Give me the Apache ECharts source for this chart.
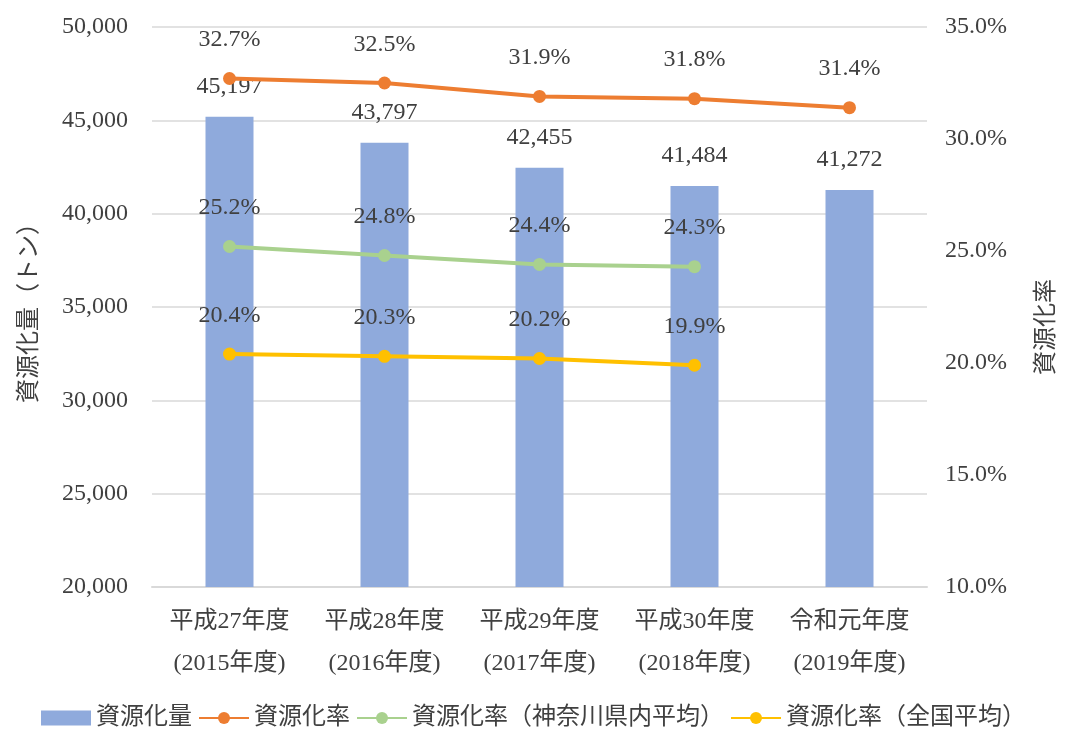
<!DOCTYPE html>
<html>
<head>
<meta charset="utf-8">
<script src="https://cdn.jsdelivr.net/npm/echarts@6/dist/echarts.min.js"></script>
<style>
  html, body { margin: 0; padding: 0; background: #fff; }
  #main { width: 1067px; height: 731px; }
</style>
</head>
<body>
<div id="main"></div>
<script>
var categories = ['平成27年度\n(2015年度)', '平成28年度\n(2016年度)', '平成29年度\n(2017年度)', '平成30年度\n(2018年度)', '令和元年度\n(2019年度)'];
var amount = [45197, 43797, 42455, 41484, 41272];
var rate = [32.7, 32.5, 31.9, 31.8, 31.4];
var rateKanagawa = [25.2, 24.8, 24.4, 24.3, null];
var rateNational = [20.4, 20.3, 20.2, 19.9, null];

var font = '"Liberation Serif", "Noto Sans CJK JP", serif';
var textColor = '#404040';
var fs = 24;

var myChart = echarts.init(document.getElementById('main'));

function lineSeries(name, data, color) {
    return {
        name: name,
        type: 'line',
        yAxisIndex: 1,
        data: data,
        symbol: 'circle',
        symbolSize: 13,
        lineStyle: { color: color, width: 4 },
        itemStyle: { color: color },
        label: {
            show: true,
            position: 'top',
            distance: 20,
            color: textColor,
            fontFamily: font,
            fontSize: fs,
            formatter: function (p) { return p.value.toFixed(1) + '%'; }
        }
    };
}

var option = {
    backgroundColor: '#fff',
    animation: false,
    textStyle: { fontFamily: font },
    grid: { left: 152, right: 137, top: 27, bottom: 144 },
    legend: {
        bottom: -4,
        left: 'center',
        itemGap: 6,
        itemWidth: 50,
        itemHeight: 15,
        textStyle: { color: textColor, fontSize: fs, fontFamily: font },
        data: [
            { name: '資源化量', icon: 'rect', itemStyle: { color: '#8faadc' } },
            { name: '資源化率' },
            { name: '資源化率（神奈川県内平均）' },
            { name: '資源化率（全国平均）' }
        ]
    },
    xAxis: {
        type: 'category',
        data: categories,
        axisLine: { lineStyle: { color: '#d9d9d9', width: 2 } },
        axisTick: { show: false },
        axisLabel: {
            interval: 0,
            color: textColor,
            fontSize: fs,
            fontFamily: font,
            lineHeight: 42,
            margin: 14
        }
    },
    yAxis: [
        {
            type: 'value',
            min: 20000,
            max: 50000,
            interval: 5000,
            name: '資源化量（トン）',
            nameLocation: 'middle',
            nameGap: 110,
            nameTextStyle: { color: textColor, fontSize: fs, fontFamily: font },
            axisLine: { show: false },
            axisTick: { show: false },
            splitLine: { lineStyle: { color: '#d9d9d9', width: 1.5 } },
            axisLabel: {
                color: textColor,
                fontSize: fs,
                fontFamily: font,
                margin: 24,
                formatter: function (v) { return v.toLocaleString('en-US'); }
            }
        },
        {
            type: 'value',
            min: 10,
            max: 35,
            interval: 5,
            name: '資源化率',
            nameLocation: 'middle',
            nameGap: 108,
            nameRotate: 90,
            nameTextStyle: { color: textColor, fontSize: fs, fontFamily: font, padding: [0, 40, 0, 0] },
            axisLine: { show: false },
            axisTick: { show: false },
            splitLine: { show: false },
            axisLabel: {
                color: textColor,
                fontSize: fs,
                fontFamily: font,
                margin: 18,
                formatter: function (v) { return v.toFixed(1) + '%'; }
            }
        }
    ],
    series: [
        {
            name: '資源化量',
            type: 'bar',
            data: amount,
            barWidth: 48,
            itemStyle: { color: '#8faadc' },
            label: {
                show: true,
                position: 'top',
                distance: 18,
                color: textColor,
                fontSize: fs,
                fontFamily: font,
                formatter: function (p) { return p.value.toLocaleString('en-US'); }
            }
        },
        lineSeries('資源化率', rate, '#ed7d31'),
        lineSeries('資源化率（神奈川県内平均）', rateKanagawa, '#a9d18e'),
        lineSeries('資源化率（全国平均）', rateNational, '#ffc000')
    ]
};

myChart.setOption(option);
</script>
</body>
</html>
